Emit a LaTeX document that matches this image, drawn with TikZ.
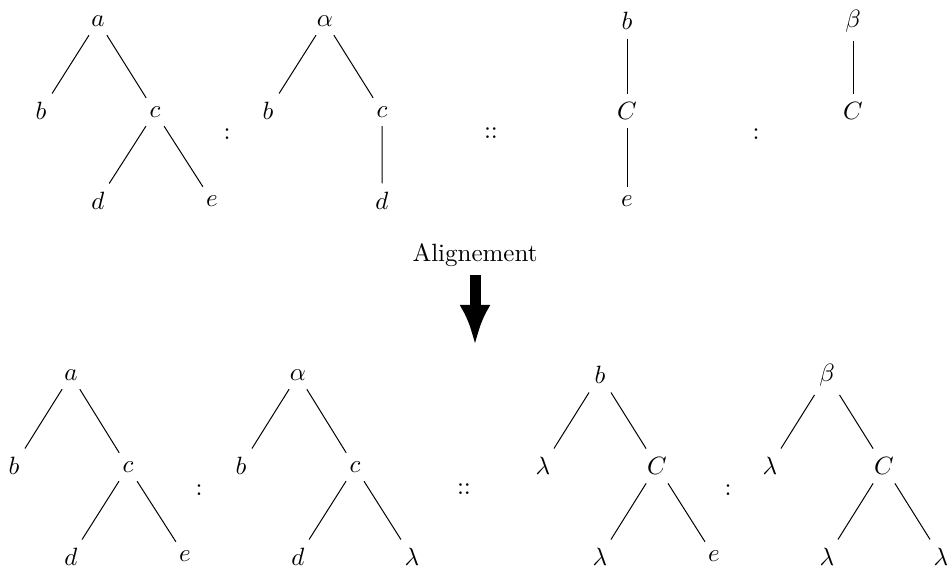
\documentclass[tikz,border=0pt]{standalone}
\usepackage{amsmath}
\usetikzlibrary{arrows.meta}

\begin{document}
\begin{tikzpicture}[x=0.4pt, y=-0.4pt,
    branch/.style={thin},
    bigarrow/.style={line width=4.4pt, -{Latex[length=16pt, width=12.4pt]}}]
    \useasboundingbox (0,0) rectangle (947,572);

    % Top row: first tree
    \node (a1) at (98,21) {$a$};
    \node (a2) at (41,111) {$b$};
    \node (a3) at (155,112) {$c$};
    \node (a4) at (98,201) {$d$};
    \node (a5) at (212,201) {$e$};
    \draw[branch] (a1) -- (a2) (a1) -- (a3) (a3) -- (a4) (a3) -- (a5);
    \node (col1) at (227,134) {$:$};
    % Top row: second tree
    \node (b1) at (325,21) {$\alpha$};
    \node (b2) at (268,111) {$b$};
    \node (b3) at (382,112) {$c$};
    \node (b4) at (382,201) {$d$};
    \draw[branch] (b1) -- (b2) (b1) -- (b3) (b3) -- (b4);
    \node (dcol1) at (491,133) {$::$};
    % Top row: third tree
    \node (c1) at (627,21) {$b$};
    \node (c2) at (627,111) {$C$};
    \node (c3) at (627,201) {$e$};
    \draw[branch] (c1) -- (c2) -- (c3);
    \node (col2) at (756,134) {$:$};
    % Top row: fourth tree
    \node (d1) at (853,21) {$\beta$};
    \node (d2) at (853,111) {$C$};
    \draw[branch] (d1) -- (d2);

    % Alignment arrow
    \node (align) at (475,255) {Alignement};
    \coordinate (tip) at (475,345);
    \draw[bigarrow] (align) -- (tip);

    % Bottom row: first tree
    \node (e1) at (71,375) {$a$};
    \node (e2) at (14,466) {$b$};
    \node (e3) at (128,467) {$c$};
    \node (e4) at (71,557) {$d$};
    \node (e5) at (185,556) {$e$};
    \draw[branch] (e1) -- (e2) (e1) -- (e3) (e3) -- (e4) (e3) -- (e5);
    \node (col3) at (199,490) {$:$};
    % Bottom row: second tree
    \node (f1) at (298,375) {$\alpha$};
    \node (f2) at (241,466) {$b$};
    \node (f3) at (355,467) {$c$};
    \node (f4) at (298,557) {$d$};
    \node (f5) at (412,557) {$\lambda$};
    \draw[branch] (f1) -- (f2) (f1) -- (f3) (f3) -- (f4) (f3) -- (f5);
    \node (dcol2) at (464,489) {$::$};
    % Bottom row: third tree
    \node (g1) at (600,375) {$b$};
    \node (g2) at (543,466) {$\lambda$};
    \node (g3) at (657,466) {$C$};
    \node (g4) at (600,557) {$\lambda$};
    \node (g5) at (714,556) {$e$};
    \draw[branch] (g1) -- (g2) (g1) -- (g3) (g3) -- (g4) (g3) -- (g5);
    \node (col4) at (728,490) {$:$};
    % Bottom row: fourth tree
    \node (h1) at (827,375) {$\beta$};
    \node (h2) at (770,466) {$\lambda$};
    \node (h3) at (884,466) {$C$};
    \node (h4) at (827,557) {$\lambda$};
    \node (h5) at (941,557) {$\lambda$};
    \draw[branch] (h1) -- (h2) (h1) -- (h3) (h3) -- (h4) (h3) -- (h5);
\end{tikzpicture}
\end{document}
